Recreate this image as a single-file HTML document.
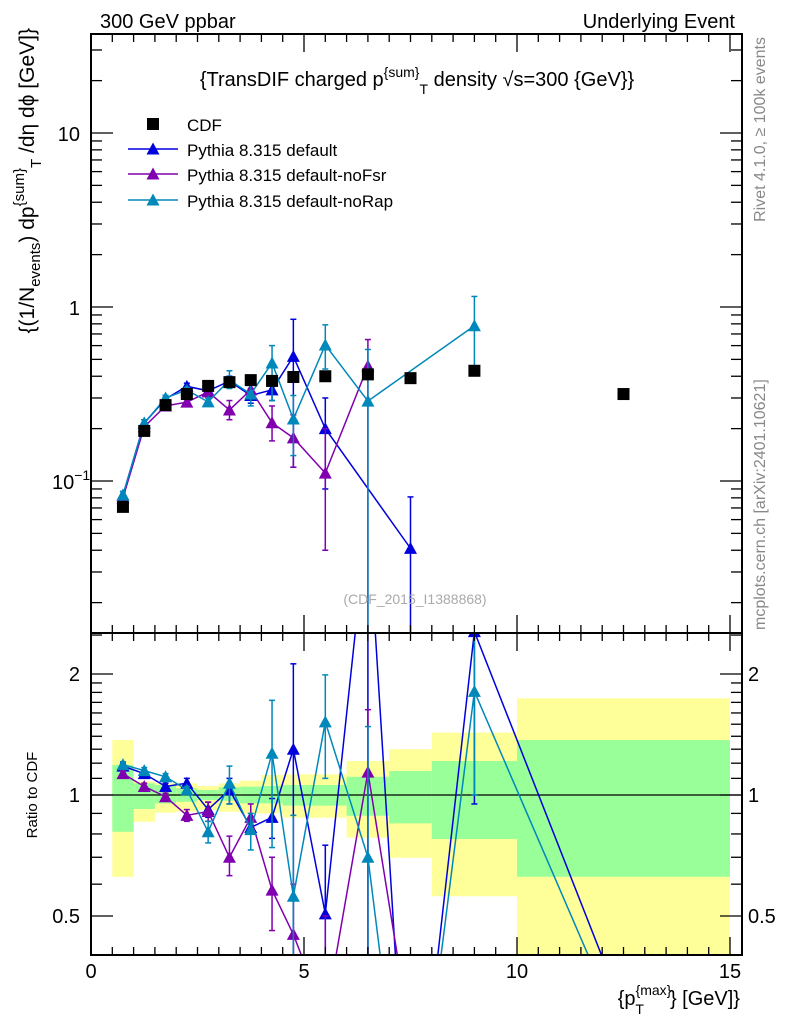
<!DOCTYPE html>
<html><head><meta charset="utf-8"><style>
html,body{margin:0;padding:0;background:#fff;overflow:hidden;width:786px;height:1024px;}
svg{display:block;font-family:"Liberation Sans",sans-serif;}
</style></head><body>
<svg id="chart" width="786" height="1024" viewBox="0 0 786 1024" xmlns="http://www.w3.org/2000/svg">
<defs>
<clipPath id="clipMain"><rect x="91" y="34" width="651" height="599"/></clipPath>
<clipPath id="clipRatio"><rect x="91" y="633" width="651" height="322"/></clipPath>
</defs>
<g id="bands" clip-path="url(#clipRatio)"></g>
<g id="ratioMarks" clip-path="url(#clipRatio)"></g>
<g id="mainMarks" clip-path="url(#clipMain)"></g>
<g id="axes"></g>
<text x="100" y="28" font-size="20">300 GeV ppbar</text>
<text x="735" y="28" font-size="20" text-anchor="end">Underlying Event</text>
<text x="417" y="86" font-size="20" text-anchor="middle">{TransDIF charged p<tspan dy="-9" font-size="14">{sum</tspan><tspan dy="0" font-size="14">}</tspan><tspan dy="17" font-size="14">T</tspan><tspan dy="-8"> density √s=300 {GeV}}</tspan></text>
<text x="415" y="604" font-size="14" fill="#aaa" text-anchor="middle">(CDF_2015_I1388868)</text>
<text transform="translate(765,37) rotate(-90)" font-size="16" fill="#888" text-anchor="end">Rivet 4.1.0, ≥ 100k events</text>
<text transform="translate(765,630) rotate(-90)" font-size="16" fill="#888">mcplots.cern.ch [arXiv:2401.10621]</text>
<text transform="translate(34,28) rotate(-90)" font-size="21" text-anchor="end">{(1/N<tspan dy="6" font-size="15">events</tspan><tspan dy="-6">) dp</tspan><tspan dy="-10" font-size="15">{sum</tspan><tspan font-size="15">}</tspan><tspan dy="17" font-size="15">T</tspan><tspan dy="-7"> /dη  dϕ [GeV]}</tspan></text>
<text transform="translate(37,795) rotate(-90)" font-size="15" text-anchor="middle">Ratio to CDF</text>
<text x="740" y="1005" font-size="20" text-anchor="end">{p<tspan dy="-10" font-size="14">{max</tspan><tspan font-size="14">}</tspan><tspan dx="-36" dy="19" font-size="14">T</tspan><tspan dx="26" dy="-9">} [GeV]}</tspan></text>
<g id="legend"></g>
</svg>
<script>
const xCenters = [0.75,1.25,1.75,2.25,2.75,3.25,3.75,4.25,4.75,5.5,6.5,7.5,9,12.5];
const cdfVals = [0.071,0.194,0.273,0.316,0.352,0.37,0.38,0.376,0.396,0.40,0.41,0.39,0.43,0.316];
const defX = [0.75,1.25,1.75,2.25,2.75,3.25,3.75,4.25,4.75,5.5,7.5];
const defVals = [0.083,0.215,0.296,0.35,0.33,0.375,0.31,0.334,0.52,0.20,0.041];
const defLo = [0.079,0.205,0.285,0.335,0.31,0.35,0.28,0.29,0.12,0.09,0.005];
const defHi = [0.087,0.225,0.31,0.365,0.35,0.40,0.34,0.38,0.85,0.30,0.081];
const fsrX = [0.75,1.25,1.75,2.25,2.75,3.25,3.75,4.25,4.75,5.5,6.5];
const fsrVals = [0.08,0.205,0.27,0.284,0.325,0.256,0.334,0.216,0.177,0.111,0.458];
const fsrLo = [0.076,0.195,0.26,0.27,0.30,0.225,0.30,0.17,0.12,0.04,0.005];
const fsrHi = [0.084,0.215,0.28,0.30,0.35,0.29,0.37,0.27,0.24,0.20,0.65];
const rapX = [0.75,1.25,1.75,2.25,2.75,3.25,3.75,4.25,4.75,5.5,6.5,9];
const rapVals = [0.083,0.215,0.30,0.333,0.285,0.38,0.316,0.477,0.227,0.605,0.288,0.78];
const rapLo = [0.079,0.205,0.29,0.32,0.27,0.34,0.27,0.29,0.14,0.44,0.005,0.43];
const rapHi = [0.087,0.225,0.31,0.345,0.30,0.43,0.36,0.60,0.31,0.79,0.57,1.15];
const ratioX = [0.75,1.25,1.75,2.25,2.75,3.25,3.75,4.25,4.75,5.5,6.5,7.5,9,12.5];
const defRatio = [1.18,1.13,1.05,1.07,0.92,1.03,0.83,0.88,1.30,0.506,5,0.1,2.55,0.29];
const defRLo = [1.16,1.11,1.03,1.03,0.88,0.95,0.80,0.78,0.31,0.23,0.1,0.01,0.95,0.29];
const defRHi = [1.20,1.15,1.07,1.10,0.96,1.10,0.86,0.98,2.12,0.75,6,0.2,3.5,0.29];
const fsrRatio = [1.13,1.05,0.99,0.89,0.91,0.70,0.88,0.58,0.45,0.28,1.14,0.25];
const fsrRLo = [1.11,1.03,0.97,0.86,0.86,0.63,0.80,0.46,0.31,0.1,0.3,0.1];
const fsrRHi = [1.15,1.07,1.01,0.92,0.96,0.79,0.95,0.70,0.60,0.5,1.63,0.4];
const rapRatio = [1.19,1.15,1.11,1.03,0.81,1.07,0.82,1.27,0.56,1.52,0.70,0.1,1.81,0.25];
const rapRLo = [1.17,1.13,1.09,1.01,0.76,0.95,0.73,0.74,0.35,1.10,0.1,0.01,1.0,0.25];
const rapRHi = [1.21,1.17,1.13,1.05,0.86,1.18,0.90,1.72,0.89,1.99,1.48,0.2,2.6,0.25];
const binEdges = [0.5,1,1.5,2,2.5,3,3.5,4,4.5,5,6,7,8,10,15];
const yellowHi = [1.37,1.08,1.069,1.069,1.053,1.069,1.085,1.121,1.126,1.126,1.215,1.30,1.43,1.74];
const yellowLo = [0.626,0.858,0.904,0.909,0.918,0.909,0.90,0.90,0.878,0.878,0.783,0.698,0.56,0.3];
const greenHi = [1.188,1.069,1.059,1.039,1.029,1.045,1.049,1.053,1.059,1.059,1.11,1.147,1.215,1.37];
const greenLo = [0.81,0.923,0.953,0.962,0.972,0.968,0.953,0.953,0.941,0.941,0.888,0.85,0.777,0.626];
const xTicks = [0,5,10,15];

const NS="http://www.w3.org/2000/svg";
const X0=91, XR=742, YT=34, YM=633, YB=955;
function xs(v){return X0+42.6*v;}
function ym(v){return 307-174*Math.log10(v);}
function yr(r){return 795-121*Math.log2(r);}
function mk(tag,attrs,parent){const e=document.createElementNS(NS,tag);for(const k in attrs)e.setAttribute(k,attrs[k]);parent.appendChild(e);return e;}
const axes=document.getElementById('axes');
const bands=document.getElementById('bands');
const mainG=document.getElementById('mainMarks');
const ratioG=document.getElementById('ratioMarks');

for(let i=0;i<yellowHi.length;i++){
  const x1=xs(binEdges[i]),x2=xs(binEdges[i+1]);
  const r1=mk('rect',{x:x1,y:yr(yellowHi[i]),width:x2-x1,height:yr(yellowLo[i])-yr(yellowHi[i]),fill:'#ffff99'},bands);
  
  
  const r2=mk('rect',{x:x1,y:yr(greenHi[i]),width:x2-x1,height:yr(greenLo[i])-yr(greenHi[i]),fill:'#99ff99'},bands);
  
  
}
const one=mk('line',{x1:X0,x2:XR,y1:yr(1),y2:yr(1),stroke:'#000','stroke-width':1.3},bands);



function tri(g,x,y,c){return mk('path',{d:`M${x-6.5},${y+5.5}L${x+6.5},${y+5.5}L${x},${y-6.5}Z`,fill:c},g);}
function series(g,xv,vals,lo,hi,c,yf,name){
  const sg=mk('g',{},g);
  
  
  const pts=xv.map((x,i)=>xs(x)+','+yf(vals[i])).join(' ');
  mk('polyline',{points:pts,fill:'none',stroke:c,'stroke-width':1.5},sg);
  xv.forEach((x,i)=>{
    const px=xs(x),a=yf(hi[i]),b=yf(lo[i]);
    if(hi[i]!==lo[i]){
      mk('line',{x1:px,x2:px,y1:a,y2:b,stroke:c,'stroke-width':1.5},sg);
      mk('line',{x1:px-3,x2:px+3,y1:a,y2:a,stroke:c,'stroke-width':1.5},sg);
      mk('line',{x1:px-3,x2:px+3,y1:b,y2:b,stroke:c,'stroke-width':1.5},sg);
    }
    const t=tri(sg,px,yf(vals[i]),c);
    
    
  });
}
const cDef='#0000dd', cFsr='#8000b0', cRap='#0088bb';
series(mainG,defX,defVals,defLo,defHi,cDef,ym,'pythia-default-series');
series(mainG,fsrX,fsrVals,fsrLo,fsrHi,cFsr,ym,'pythia-nofsr-series');
series(mainG,rapX,rapVals,rapLo,rapHi,cRap,ym,'pythia-norap-series');
xCenters.forEach((x,i)=>{
  const r=mk('rect',{x:xs(x)-6,y:ym(cdfVals[i])-6,width:12,height:12,fill:'#000'},mainG);
  
  
});
series(ratioG,ratioX,defRatio,defRLo,defRHi,cDef,yr,'ratio-default-series');
series(ratioG,ratioX.slice(0,12),fsrRatio,fsrRLo,fsrRHi,cFsr,yr,'ratio-nofsr-series');
series(ratioG,ratioX,rapRatio,rapRLo,rapRHi,cRap,yr,'ratio-norap-series');

mk('rect',{x:X0,y:YT,width:XR-X0,height:YM-YT,fill:'none',stroke:'#000','stroke-width':2},axes);
mk('rect',{x:X0,y:YM,width:XR-X0,height:YB-YM,fill:'none',stroke:'#000','stroke-width':2},axes);
for(let v=0;v<=15.001;v+=0.5){
  const major=Math.abs(v%5)<1e-6, px=xs(v), L=major?18:8;
  [[YT,1],[YM,-1],[YM,1],[YB,-1]].forEach(([y,d])=>mk('line',{x1:px,x2:px,y1:y,y2:y+d*L,stroke:'#000','stroke-width':1.3},axes));
}
xTicks.forEach(v=>{
  const t=mk('text',{x:xs(v),y:978,'font-size':20,'text-anchor':'middle'},axes);t.textContent=v;
  
  
});
for(let d=-2;d<=1;d++){for(let m=1;m<=9;m++){
  const v=m*Math.pow(10,d),y=ym(v); if(y<YT||y>YM)continue;
  const L=m===1?22:11;
  mk('line',{x1:X0,x2:X0+L,y1:y,y2:y,stroke:'#000','stroke-width':1.3},axes);
  mk('line',{x1:XR,x2:XR-L,y1:y,y2:y,stroke:'#000','stroke-width':1.3},axes);
}}
[[1,'1'],[10,'10']].forEach(([v,s])=>{
  const t=mk('text',{x:80,y:ym(v)+8,'font-size':20,'text-anchor':'end'},axes);t.textContent=s;
  
  
});
{
  const t=mk('text',{x:52,y:ym(0.1)+8,'font-size':20},axes);
  t.textContent='10';
  const sp=mk('tspan',{dy:-9,'font-size':14},t);sp.textContent='−1';
  
  
}
[0.4,0.5,0.6,0.7,0.8,0.9,1,1.1,1.2,1.3,1.4,1.5,1.6,1.7,1.8,1.9,2,2.5].forEach(v=>{
  const y=yr(v); if(y<YM||y>YB)return;
  const L=(v===0.5||v===1||v===2)?22:11;
  mk('line',{x1:X0,x2:X0+L,y1:y,y2:y,stroke:'#000','stroke-width':1.3},axes);
  mk('line',{x1:XR,x2:XR-L,y1:y,y2:y,stroke:'#000','stroke-width':1.3},axes);
});
[[0.5,'0.5'],[1,'1'],[2,'2']].forEach(([v,s])=>{
  const t=mk('text',{x:80,y:yr(v)+7,'font-size':20,'text-anchor':'end'},axes);t.textContent=s;
  
  
  const t2=mk('text',{x:748,y:yr(v)+7,'font-size':20},axes);t2.textContent=s;
  
  
});
const lg=document.getElementById('legend');
const legItems=[['CDF','#000',124],['Pythia 8.315 default',cDef,149],['Pythia 8.315 default-noFsr',cFsr,174],['Pythia 8.315 default-noRap',cRap,200]];
legItems.forEach(([lab,c,y],i)=>{
  const g=mk('g',{},lg);
  
  
  if(i==0) mk('rect',{x:147,y:y-6,width:12,height:12,fill:'#000'},g);
  else {mk('line',{x1:128,x2:178,y1:y,y2:y,stroke:c,'stroke-width':1.5},g);tri(g,153,y,c);}
  const t=mk('text',{x:187,y:y+7,'font-size':17},g);t.textContent=lab;
});
</script>
</body></html>
